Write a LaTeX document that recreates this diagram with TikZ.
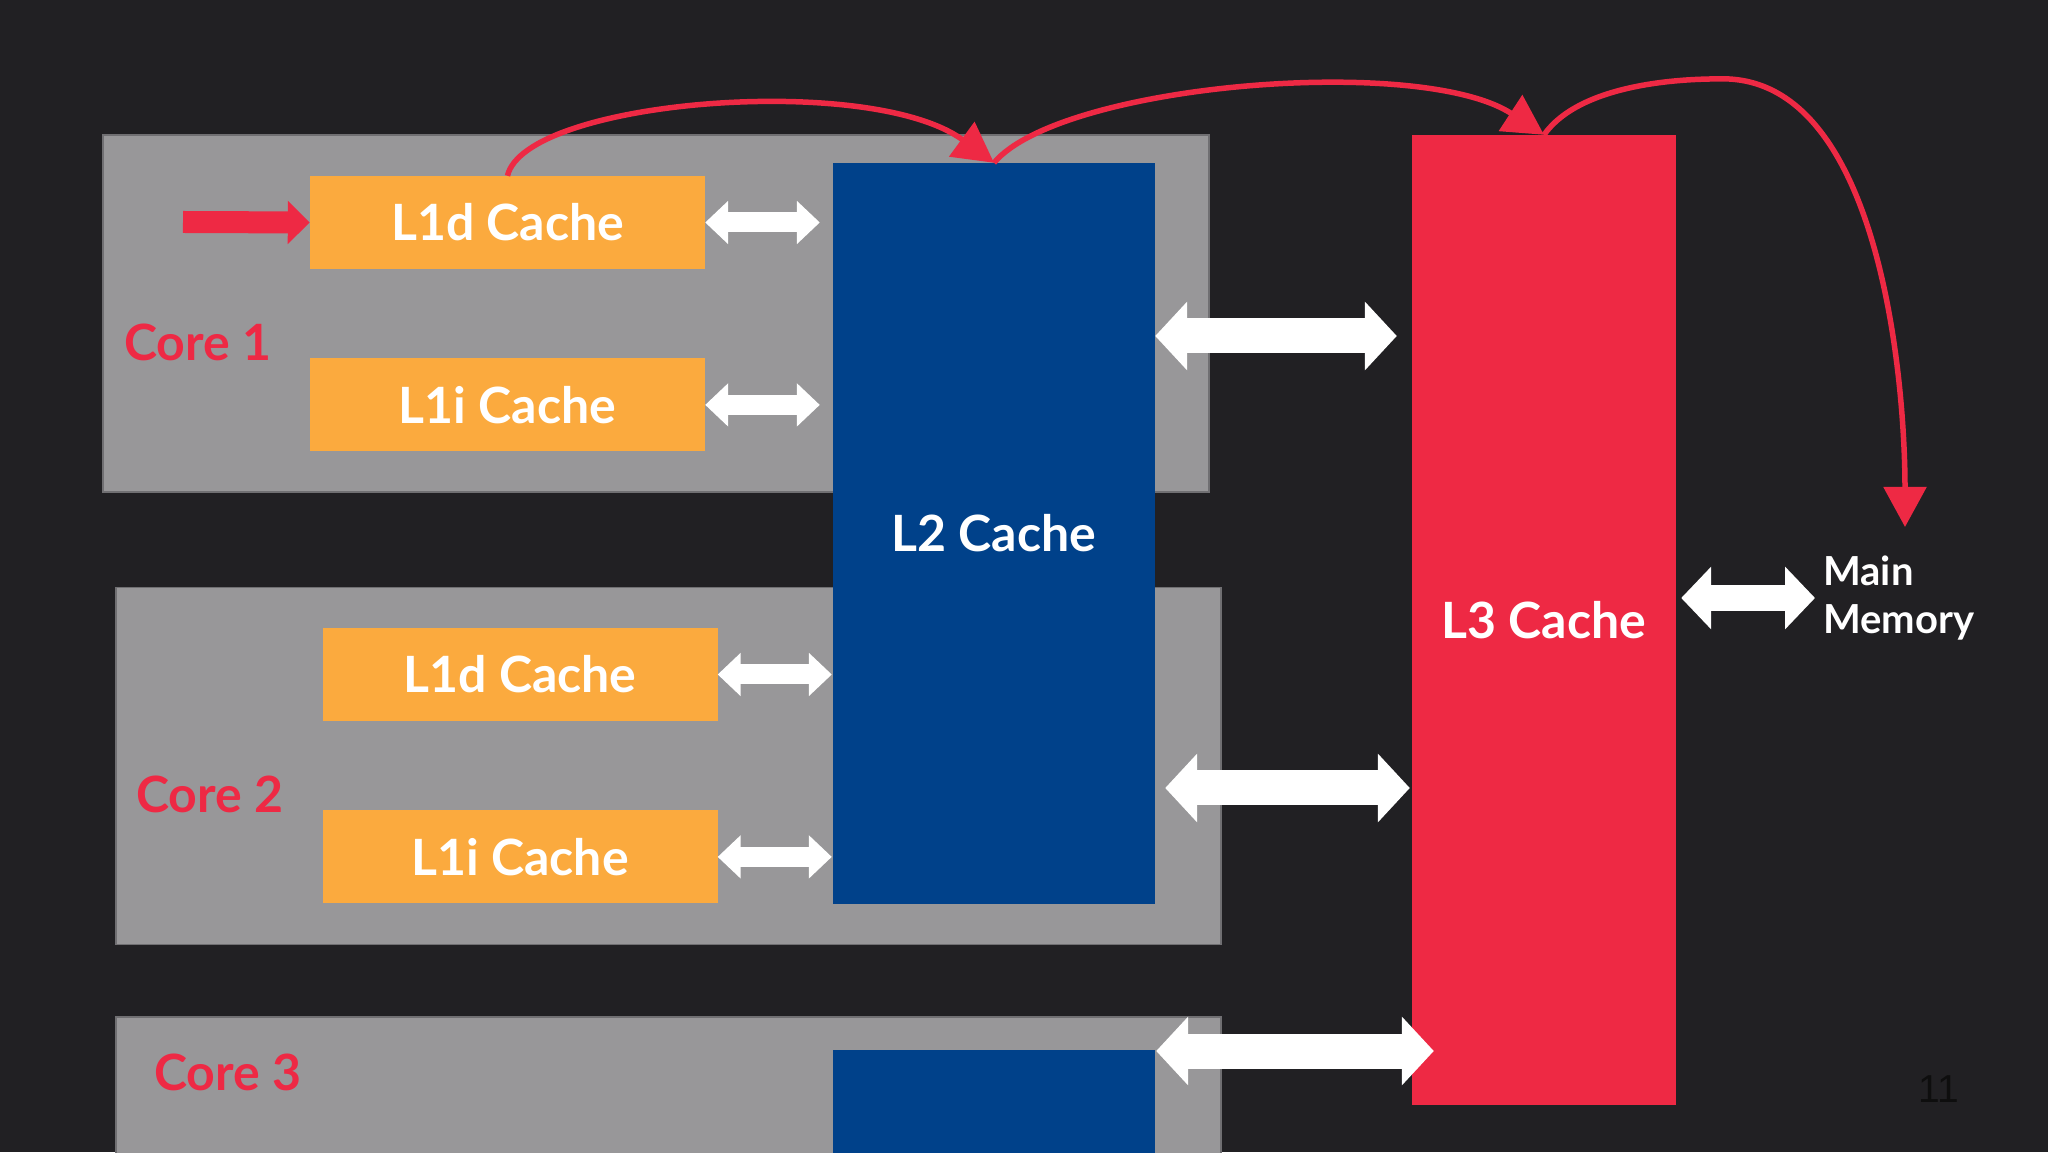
\documentclass[tikz,border=0pt]{standalone}
\usepackage{fontspec}
\setmainfont{Lato}
\newfontfamily\pagefont{Liberation Sans}
\usetikzlibrary{calc}
\usetikzlibrary{positioning}
\usetikzlibrary{arrows.meta}

\definecolor{slideBg}{RGB}{33,32,35}
\definecolor{coreGray}{RGB}{152,151,153}
\definecolor{coreEdge}{RGB}{112,111,114}
\definecolor{cacheOrange}{RGB}{251,170,62}
\definecolor{cacheBlue}{RGB}{0,65,138}
\definecolor{hotRed}{RGB}{238,41,68}
\definecolor{pageInk}{RGB}{14,14,14}

\begin{document}
\begin{tikzpicture}[x=1pt,y=1pt]
      \tikzset{coreBox/.style={fill=coreGray, draw=coreEdge, line width=1.5pt,
        minimum width=1105pt, minimum height=357pt, inner sep=0pt}};
      \tikzset{lOneBox/.style={fill=cacheOrange, text=white, font=\fontsize{50}{60}\selectfont\bfseries,
        minimum width=395pt, minimum height=93pt, inner sep=0pt, node distance=89pt}};
      \tikzset{bigBox/.style={text=white, font=\fontsize{50}{60}\selectfont\bfseries, inner sep=0pt}};
      \tikzset{coreLabel/.style={text=hotRed, font=\fontsize{50}{60}\selectfont\bfseries, anchor=west, inner sep=0pt}};
      \tikzset{smallLink/.style={white, line width=20pt, <->, >={Triangle[length=23pt,width=42pt]}}};
      \tikzset{wideLink/.style={white, line width=35pt, <->, >={Triangle[length=32pt,width=67pt]}}};
      \tikzset{memLink/.style={white, line width=26pt, <->, >={Triangle[length=30pt,width=61pt]}}};
      \tikzset{feedLink/.style={hotRed, line width=22pt, -{Triangle[length=22pt,width=42pt]}}};
      \tikzset{flow/.style={hotRed, line width=5.5pt, -{Triangle[length=40pt,width=42pt]}}};

      \useasboundingbox (0,0) rectangle (2048,1152);
      \clip (0,0) rectangle (2048,1152);
      \fill[slideBg] (0,0) rectangle (2048,1152);

      % cores
      \node[coreBox, minimum width=1106pt](coreA) at (656,838.5){};
      \node[coreBox](coreB) at (668.5,386){};
      \node[coreBox, minimum height=235pt](coreC) at (668.5,17.5){};
      \node[coreLabel] (coreALbl) at (124,810){Core 1};
      \node[coreLabel] (coreBLbl) at (136,358){Core 2};
      \node[coreLabel] (coreCLbl) at (154,80){Core 3};

      % L2 / L3
      \node[bigBox, fill=cacheBlue, minimum width=322pt, minimum height=741pt](l2) at (994,618.5){L2 Cache};
      \node[fill=cacheBlue, minimum width=322pt, minimum height=162pt, inner sep=0pt](l2c) at (994,21){};
      \node[bigBox, fill=hotRed, minimum width=264pt, minimum height=970pt](l3) at (1544,532){L3 Cache};

      % L1
      \node[lOneBox](l1dA) at (507.5,929.5){L1d Cache};
      \node[lOneBox, below = of l1dA](l1iA){L1i Cache};
      \node[lOneBox](l1dB) at (520,477.5){L1d Cache};
      \node[lOneBox, below = of l1dB](l1iB){L1i Cache};

      \node[text=white, font=\fontsize{40}{48}\selectfont\bfseries, align=left, anchor=west, inner sep=0pt]
        (mem) at (1823,554){Main\\Memory};
      \node[text=pageInk, font=\pagefont\fontsize{39}{42}\selectfont, inner sep=0pt](pageNo) at (1939,63){11};

      \coordinate (rowA) at (0,816);
      \coordinate (rowB) at (0,364);
      \coordinate (rowC) at (0,101);
      \coordinate (feed) at (183,930);
      \coordinate (memTip) at (1905,625);

      % white links
      \draw[smallLink, shorten >=13pt] (l1dA.east) -- (l1dA.east -| l2.west);
      \draw[smallLink, shorten >=13pt] (l1iA.east) -- (l1iA.east -| l2.west);
      \draw[smallLink, shorten >=1pt] (l1dB.east) -- (l1dB.east -| l2.west);
      \draw[smallLink, shorten >=1pt] (l1iB.east) -- (l1iB.east -| l2.west);
      \draw[wideLink, shorten >=15pt] (l2.east |- rowA) -- (l3.west |- rowA);
      \draw[wideLink, shorten <=10pt, shorten >=2pt] (l2.east |- rowB) -- (l3.west |- rowB);
      \draw[wideLink, shorten <=1pt, shorten >=-22pt] (l2c.east |- rowC) -- (l3.west |- rowC);
      \draw[memLink, shorten <=5pt, shorten >=8pt] (l3.east |- mem.west) -- (mem.west);

      % red paths
      \draw[feedLink] (feed) -- (l1dA.west);
      \draw[flow] (l1dA.north) .. controls (525,1052) and (870,1080) .. (l2.north);
      \draw[flow] (l2.north) .. controls (1060,1068) and (1420,1098) .. (l3.north);
      \draw[flow] (l3.north) .. controls (1580,1068) and (1680,1074) .. (1729,1073)
        .. controls (1880,1065) and (1905,772) .. (memTip);
\end{tikzpicture}
\end{document}
